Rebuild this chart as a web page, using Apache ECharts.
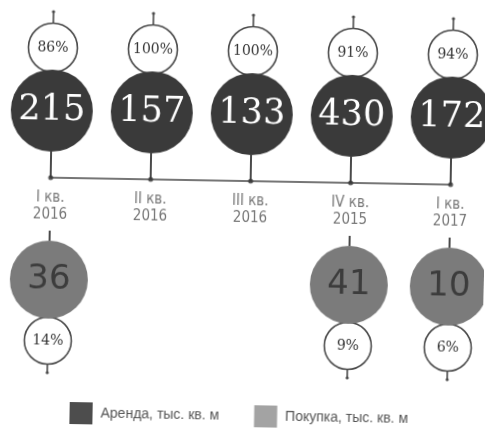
<!DOCTYPE html>
<html>
<head>
<meta charset="utf-8">
<script src="https://cdn.jsdelivr.net/npm/echarts@6/dist/echarts.min.js"></script>
<style>
  html, body { margin: 0; padding: 0; background: #fff; overflow: hidden; }
  /* the printed sheet sits slightly tilted */
  #chart { width: 485px; height: 434px; transform: rotate(1deg); transform-origin: 50% 50%; }
</style>
</head>
<body>
<div id="chart"></div>
<script>
// Quarters along the timeline
const quarters = ['I кв.\n2016', 'II кв.\n2016', 'III кв.\n2016', 'IV кв.\n2015', 'I кв.\n2017'];
// Rent volume, thousand sq. m, and its share of the quarter's total
const rentValues = [215, 157, 133, 430, 172];
const rentShare = [86, 100, 100, 91, 94];
// Purchase volume, thousand sq. m, and its share (no deals in II and III quarters)
const purchaseValues = [36, null, null, 41, 10];
const purchaseShare = [14, null, null, 9, 6];

const seriesNames = ['Аренда, тыс. кв. м', 'Покупка, тыс. кв. м'];

// Vertical rows of the layout, measured from the timeline (y = 0)
const ROW = {
  pinTop: 166, shareTop: 130, shareTopEdge: 154,
  rent: 67, rentEdge: 26,
  quarterLabel: -29,
  purchaseStem: -53, purchaseEdge: -63, purchase: -102,
  shareBottom: -163, shareBottomEdge: -186, pinBottom: -195
};

const INK = '#4a4a4a';

function points(values, row) {
  const out = [];
  values.forEach((v, i) => { if (v != null) out.push([i, row, v]); });
  return out;
}

const chart = echarts.init(document.getElementById('chart'), null, { renderer: 'canvas' });

chart.setOption({
  animation: false,
  backgroundColor: '#fff',
  grid: { left: 50, right: 35, top: 0, bottom: 0, outerBoundsMode: 'none', containLabel: false },
  xAxis: {
    type: 'category',
    data: quarters,
    boundaryGap: false,
    axisLine: { onZero: true, lineStyle: { color: INK, width: 1.5 } },
    axisTick: { show: false },
    splitLine: { show: false },
    axisLabel: { show: false }
  },
  yAxis: { type: 'value', min: -253, max: 181, show: false },
  legend: {
    left: 68, top: 400,
    itemWidth: 23, itemHeight: 22, itemGap: 35,
    icon: 'rect',
    textStyle: {
      fontFamily: 'Liberation Sans, sans-serif', fontSize: 14, color: '#555',
      padding: [0, 0, 0, 3]
    },
    data: [
      { name: seriesNames[0], itemStyle: { color: '#4d4d4d' } },
      { name: seriesNames[1], itemStyle: { color: '#a3a3a3' } }
    ]
  },
  series: [
    {
      // stems and pins linking circles to the timeline
      type: 'custom',
      silent: true,
      z: 1,
      data: quarters.map((q, i) => [i]),
      renderItem(params, api) {
        const i = api.value(0);
        const ls = { stroke: INK, lineWidth: 1.6 };
        const seg = (a, b, w) => {
          const p1 = api.coord([i, a]), p2 = api.coord([i, b]);
          return { type: 'line', shape: { x1: p1[0], y1: p1[1], x2: p2[0], y2: p2[1] },
                   style: Object.assign({}, ls, w ? { lineWidth: w } : {}) };
        };
        const dot = (a) => {
          const p = api.coord([i, a]);
          return { type: 'circle', shape: { cx: p[0], cy: p[1], r: 1.6 }, style: { fill: INK } };
        };
        const children = [
          seg(ROW.pinTop, ROW.shareTopEdge), dot(ROW.pinTop),
          seg(ROW.rentEdge, 0, 2)
        ];
        if (purchaseValues[i] != null) {
          children.push(seg(ROW.purchaseStem, ROW.purchaseEdge, 2));
          children.push(seg(ROW.shareBottomEdge, ROW.pinBottom), dot(ROW.pinBottom));
        }
        return { type: 'group', children };
      }
    },
    {
      // dots on the timeline
      type: 'scatter', silent: true, z: 2,
      symbolSize: 5,
      itemStyle: { color: '#333' },
      data: quarters.map((q, i) => [i, 0])
    },
    {
      // quarter names under the timeline
      type: 'scatter', silent: true, z: 2,
      symbolSize: 1,
      itemStyle: { color: 'rgba(0,0,0,0)' },
      label: {
        show: true, position: 'inside',
        formatter: p => quarters[p.value[0]],
        lineHeight: 17,
        fontFamily: 'DejaVu Sans Condensed, Liberation Sans, sans-serif',
        fontSize: 15, color: '#555'
      },
      data: quarters.map((q, i) => [i, ROW.quarterLabel])
    },
    {
      name: 'share-rent', type: 'scatter', silent: true, z: 3,
      symbolSize: 49,
      itemStyle: { color: '#fff', borderColor: INK, borderWidth: 1.6, opacity: 1 },
      label: {
        show: true, position: 'inside',
        formatter: p => p.value[2] + '%',
        fontFamily: 'DejaVu Serif, Liberation Serif, serif', fontSize: 14, color: '#333'
      },
      data: points(rentShare, ROW.shareTop)
    },
    {
      name: seriesNames[0], type: 'scatter', z: 4,
      symbolSize: 82,
      itemStyle: { color: '#3a3a3a', opacity: 1 },
      label: {
        show: true, position: 'inside',
        formatter: p => p.value[2],
        fontFamily: 'DejaVu Serif, Liberation Serif, serif', fontSize: 35, color: '#fff'
      },
      data: points(rentValues, ROW.rent)
    },
    {
      name: 'share-purchase', type: 'scatter', silent: true, z: 3,
      symbolSize: 47,
      itemStyle: { color: '#fff', borderColor: INK, borderWidth: 1.6, opacity: 1 },
      label: {
        show: true, position: 'inside',
        formatter: p => p.value[2] + '%',
        fontFamily: 'DejaVu Serif, Liberation Serif, serif', fontSize: 14, color: '#333'
      },
      data: points(purchaseShare, ROW.shareBottom)
    },
    {
      name: seriesNames[1], type: 'scatter', z: 4,
      symbolSize: 78,
      itemStyle: { color: '#7b7b7b', opacity: 1 },
      label: {
        show: true, position: 'inside',
        formatter: p => p.value[2],
        fontFamily: 'DejaVu Sans, Liberation Sans, sans-serif', fontSize: 34, color: '#3c3c3c'
      },
      data: points(purchaseValues, ROW.purchase)
    }
  ]
});
</script>
</body>
</html>
